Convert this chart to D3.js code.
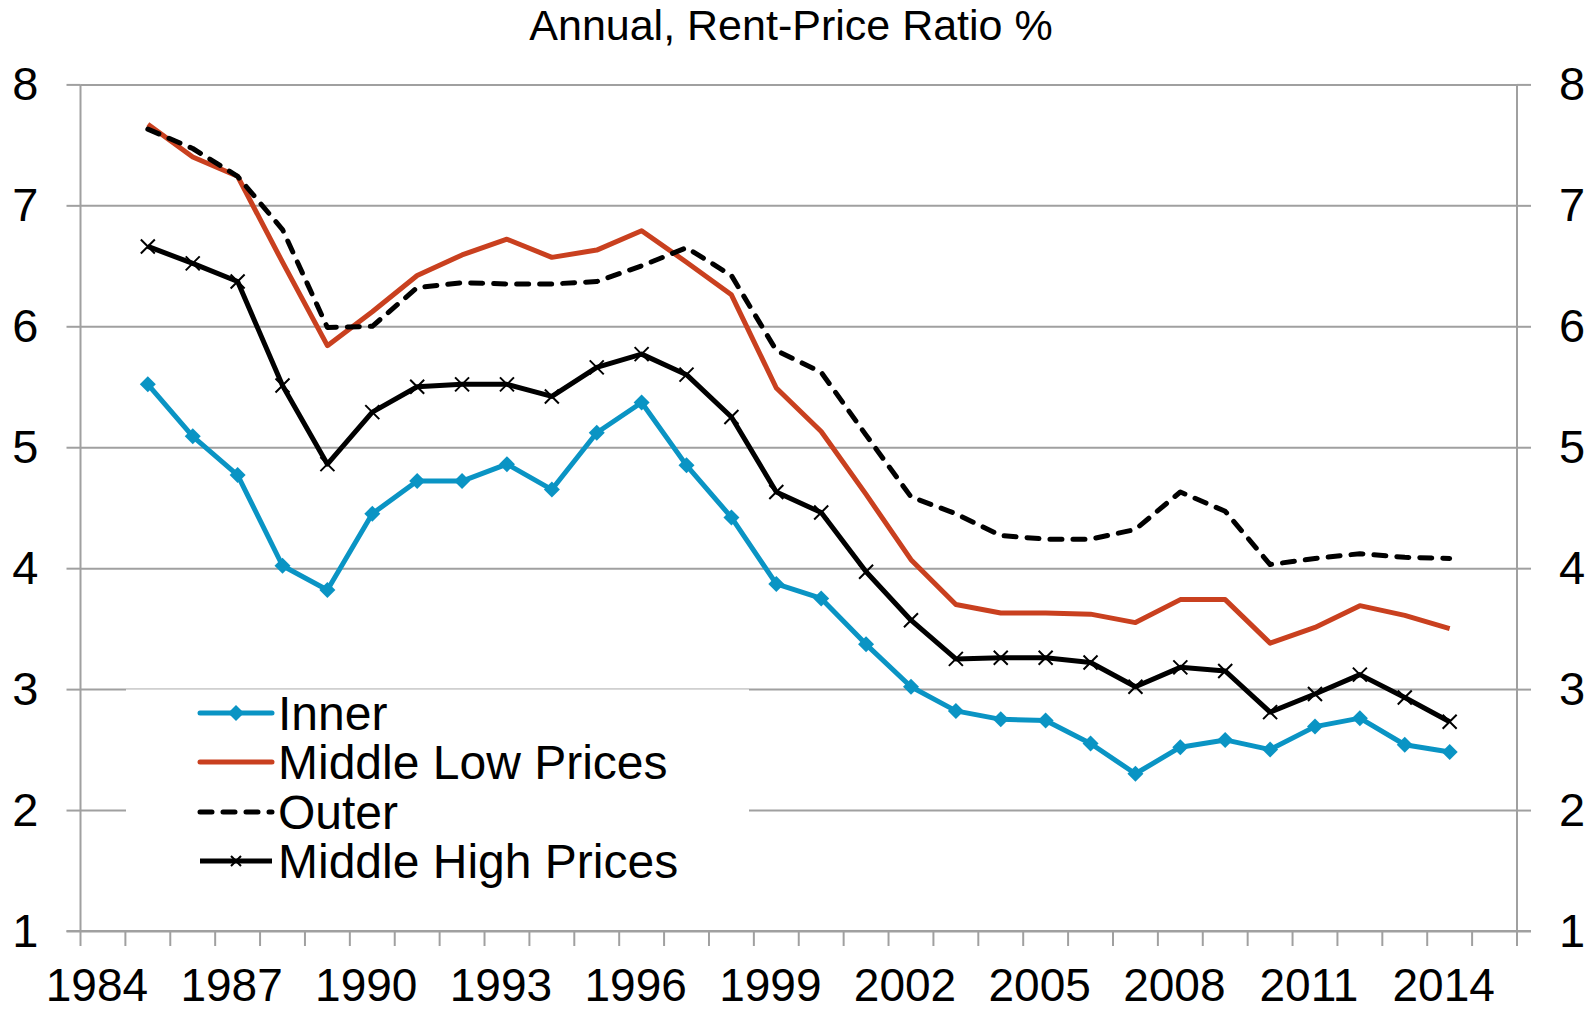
<!DOCTYPE html>
<html>
<head>
<meta charset="utf-8">
<script src="https://cdn.jsdelivr.net/npm/d3@7"></script>
<style>
  html, body { margin: 0; padding: 0; background: #fff; }
  svg text { font-family: "Liberation Sans", Arial, sans-serif; fill: #000; }
</style>
</head>
<body>
<div id="chart"></div>
<script>
// categories on the x axis (one band per year)
const years = d3.range(1984, 2016)
const dataYears = d3.range(1985, 2015)
const labelYears = [1984, 1987, 1990, 1993, 1996, 1999, 2002, 2005, 2008, 2011, 2014]
const yTicks = [1, 2, 3, 4, 5, 6, 7, 8]

// series values, 1985..2014
const inner = [5.52, 5.09, 4.77, 4.02, 3.82, 4.45, 4.72, 4.72, 4.86, 4.65,
    5.12, 5.37, 4.85, 4.42, 3.87, 3.75, 3.37, 3.02, 2.82, 2.75,
    2.74, 2.55, 2.30, 2.52, 2.58, 2.50, 2.69, 2.76, 2.54, 2.48]
const middleLow = [7.67, 7.40, 7.24, 6.53, 5.84, 6.12, 6.42, 6.59, 6.72, 6.57,
    6.63, 6.79, 6.53, 6.26, 5.49, 5.13, 4.61, 4.07, 3.70, 3.63,
    3.63, 3.62, 3.55, 3.74, 3.74, 3.38, 3.51, 3.69, 3.61, 3.50]
const outer = [7.63, 7.47, 7.24, 6.80, 5.99, 6.00, 6.32, 6.36, 6.35, 6.35,
    6.37, 6.50, 6.65, 6.42, 5.80, 5.62, 5.10, 4.59, 4.45, 4.27,
    4.24, 4.24, 4.32, 4.63, 4.47, 4.03, 4.08, 4.12, 4.09, 4.08]
const middleHigh = [6.66, 6.52, 6.37, 5.51, 4.86, 5.29, 5.50, 5.52, 5.52, 5.42,
    5.66, 5.77, 5.60, 5.25, 4.63, 4.46, 3.97, 3.57, 3.25, 3.26,
    3.26, 3.22, 3.02, 3.18, 3.15, 2.81, 2.96, 3.12, 2.93, 2.73]

const seriesNames = ["Inner", "Middle Low Prices", "Outer", "Middle High Prices"]

const W = 1594, H = 1011
const plotLeft = 80.5, plotRight = 1517, plotTop = 84.4, plotBottom = 931
const gridColor = "#a0a0a0"
const blue = "#0a94c4", red = "#c9401f"

let svg = d3.select("#chart").append("svg")
    .attr("width", W)
    .attr("height", H)

let x = d3.scaleBand().domain(years).range([plotLeft, plotRight]).padding(0)
let y = d3.scaleLinear().domain([1, 8]).range([plotBottom, plotTop])

// title
svg.append("text")
    .attr("x", 791)
    .attr("y", 40)
    .attr("text-anchor", "middle")
    .style("font-size", "43px")
    .text("Annual, Rent-Price Ratio %")

// gridlines
let grid = svg.append("g")
    .attr("transform", "translate(" + plotLeft + ",0)")
    .call(d3.axisLeft(y).tickValues(yTicks).tickSize(-(plotRight - plotLeft)).tickFormat(""))
grid.select(".domain").remove()
grid.selectAll("line").attr("stroke", gridColor).attr("stroke-width", 2)

// left axis
let yLeft = svg.append("g")
    .attr("transform", "translate(" + plotLeft + ",0)")
    .call(d3.axisLeft(y).tickValues(yTicks).tickFormat(d3.format("d")).tickSize(14).tickPadding(28))
yLeft.select(".domain").attr("stroke", gridColor).attr("stroke-width", 2)
    .attr("d", "M0," + plotTop + "V" + plotBottom)
yLeft.selectAll("line").attr("stroke", gridColor).attr("stroke-width", 2)
yLeft.selectAll("text").style("font-size", "47px").attr("font-family", null)

// right axis
let yRight = svg.append("g")
    .attr("transform", "translate(" + plotRight + ",0)")
    .call(d3.axisRight(y).tickValues(yTicks).tickFormat(d3.format("d")).tickSize(14).tickPadding(28))
yRight.select(".domain").attr("stroke", gridColor).attr("stroke-width", 2)
    .attr("d", "M0," + plotTop + "V" + plotBottom)
yRight.selectAll("line").attr("stroke", gridColor).attr("stroke-width", 2)
yRight.selectAll("text").style("font-size", "47px").attr("font-family", null)

// bottom axis: ticks between categories, labels every third year
let bounds = years.map(d => x(d)).concat([plotRight])
let xTicks = svg.append("g")
bounds.forEach(b => {
    xTicks.append("line")
        .attr("x1", b).attr("x2", b)
        .attr("y1", plotBottom).attr("y2", plotBottom + 15)
        .attr("stroke", gridColor).attr("stroke-width", 2)
})
svg.append("line")
    .attr("x1", plotLeft - 14).attr("x2", plotRight + 14)
    .attr("y1", plotBottom).attr("y2", plotBottom)
    .attr("stroke", gridColor).attr("stroke-width", 2)

let xAxis = svg.append("g")
    .attr("transform", "translate(-6," + plotBottom + ")")
    .call(d3.axisBottom(x).tickValues(labelYears).tickSize(0).tickPadding(37))
xAxis.select(".domain").remove()
xAxis.selectAll("text").style("font-size", "46px").attr("font-family", null)

// lines
let line = d3.line()
    .x((d, i) => x(dataYears[i]) + x.bandwidth() / 2)
    .y(d => y(d))

function diamond(cx, cy, r) {
    return "M" + cx + "," + (cy - r) + "L" + (cx + r) + "," + cy +
        "L" + cx + "," + (cy + r) + "L" + (cx - r) + "," + cy + "Z"
}
function cross(cx, cy, r) {
    return "M" + (cx - r) + "," + (cy - r) + "L" + (cx + r) + "," + (cy + r) +
        "M" + (cx - r) + "," + (cy + r) + "L" + (cx + r) + "," + (cy - r)
}

let plot = svg.append("g")

plot.append("path").datum(inner)
    .attr("fill", "none").attr("stroke", blue).attr("stroke-width", 5)
    .attr("stroke-linejoin", "round")
    .attr("d", line)
plot.selectAll(".dia").data(inner).enter().append("path")
    .attr("fill", blue)
    .attr("d", (d, i) => diamond(x(dataYears[i]) + x.bandwidth() / 2, y(d), 8))

plot.append("path").datum(middleLow)
    .attr("fill", "none").attr("stroke", red).attr("stroke-width", 5)
    .attr("stroke-linejoin", "round")
    .attr("d", line)

plot.append("path").datum(outer)
    .attr("fill", "none").attr("stroke", "#000").attr("stroke-width", 5)
    .attr("stroke-dasharray", "12,11").attr("stroke-linecap", "round")
    .attr("stroke-linejoin", "round")
    .attr("d", line)

plot.append("path").datum(middleHigh)
    .attr("fill", "none").attr("stroke", "#000").attr("stroke-width", 5)
    .attr("stroke-linejoin", "round")
    .attr("d", line)
plot.selectAll(".xm").data(middleHigh).enter().append("path")
    .attr("fill", "none").attr("stroke", "#000").attr("stroke-width", 2)
    .attr("d", (d, i) => cross(x(dataYears[i]) + x.bandwidth() / 2, y(d), 7))

// legend
let legend = svg.append("g")
legend.append("rect")
    .attr("x", 126).attr("y", y(3))
    .attr("width", 623).attr("height", 200)
    .attr("fill", "#fff")
legend.append("line")
    .attr("x1", 126).attr("x2", 749)
    .attr("y1", y(3)).attr("y2", y(3))
    .attr("stroke", "#d0d0d0").attr("stroke-width", 1.5)

const legendRows = [713, 762, 812, 861]
const swX0 = 200, swX1 = 272
seriesNames.forEach((name, i) => {
    let ly = legendRows[i]
    let sw = legend.append("line")
        .attr("x1", swX0).attr("x2", swX1)
        .attr("y1", ly).attr("y2", ly)
        .attr("stroke-width", 5).attr("stroke-linecap", "round")
    if (i == 0) sw.attr("stroke", blue)
    if (i == 1) sw.attr("stroke", red)
    if (i == 2) sw.attr("stroke", "#000").attr("stroke-dasharray", "12,11")
    if (i == 3) sw.attr("stroke", "#000").attr("stroke-linecap", "butt")
    if (i == 0) legend.append("path").attr("fill", blue).attr("d", diamond(236, ly, 8))
    if (i == 3) legend.append("path").attr("fill", "none").attr("stroke", "#000")
        .attr("stroke-width", 2).attr("d", cross(236, ly, 5))

    legend.append("text")
        .attr("x", 278)
        .attr("y", ly)
        .attr("dy", "0.36em")
        .style("font-size", "48px")
        .text(name)
})
</script>
</body>
</html>
